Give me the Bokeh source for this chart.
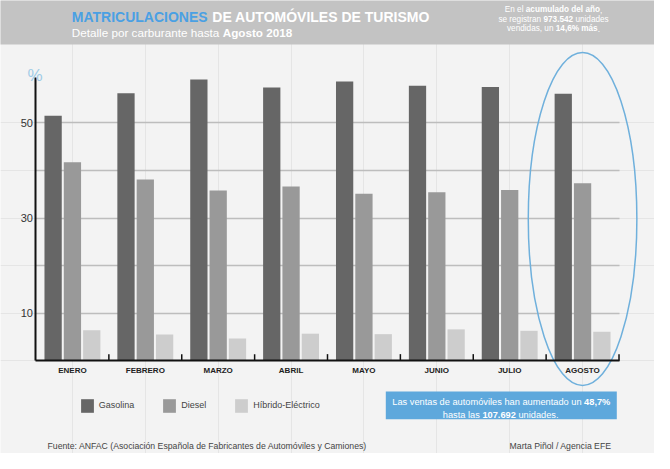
from bokeh.plotting import figure
from bokeh.models import (FactorRange, Range1d, LinearAxis, CategoricalAxis, FixedTicker,
                          Label, BoxAnnotation, Legend, LegendItem, ColumnDataSource, Grid)
from bokeh.transform import dodge
from bokeh.embed import file_html
from bokeh.resources import INLINE

# ---------------- data ----------------
months = ["ENERO", "FEBRERO", "MARZO", "ABRIL", "MAYO", "JUNIO", "JULIO", "AGOSTO"]
gasolina = [51.5, 56.2, 59.1, 57.4, 58.7, 57.8, 57.5, 56.1]
diesel = [41.7, 38.1, 35.8, 36.6, 35.1, 35.4, 35.9, 37.3]
hibrido = [6.4, 5.5, 4.7, 5.7, 5.6, 6.6, 6.3, 6.1]
series_names = ["Gasolina", "Diesel", "Híbrido-Eléctrico"]
y_tick_labels = [10, 30, 50]
grid_values = [10, 20, 30, 40, 50]

# ---------------- layout / style ----------------
W, H = 654, 453
FONT = "Liberation Sans"
BG = "#f3f3f3"
HEADER = "#c3c3c3"
BLUE = "#4aa0e3"
BOXBLUE = "#5ea8dc"
COLORS = ["#666666", "#999999", "#cdcdcd"]
S = 4.76            # px per unit
ZERO_PX = 368.3     # page px of value 0
OFF = 8             # page margin


def vy(page_y):
    """page pixel row -> data value (for placing annotations)"""
    return (ZERO_PX - page_y) / S


def sx(page_x):
    return page_x - OFF


y_start = -(H - (ZERO_PX - OFF)) / S
y_end = (ZERO_PX - OFF) / S

p = figure(width=W, height=H, title=None,
           x_range=FactorRange(factors=months, range_padding=0.487, range_padding_units="absolute"),
           y_range=Range1d(y_start, y_end),
           output_backend="svg", toolbar_location=None,
           x_axis_location=None, y_axis_location=None,
           min_border=0, background_fill_color=BG, border_fill_color=BG,
           outline_line_color=None)

src = ColumnDataSource(dict(month=months, gasolina=gasolina, diesel=diesel, hibrido=hibrido))

# grid lines
g = Grid(dimension=1, ticker=FixedTicker(ticks=grid_values),
         grid_line_color="#bdbdbd", grid_line_width=1.5)
if "cross_bounds" in Grid.properties():
    g.cross_bounds = (0, len(months))
    p.add_layout(g)
else:
    gsrc = ColumnDataSource(dict(y=grid_values, a=[months[0]] * len(grid_values),
                                 b=[months[-1]] * len(grid_values)))
    p.segment(x0=dodge("a", -0.5, range=p.x_range), x1=dodge("b", 0.5, range=p.x_range),
              y0="y", y1="y", source=gsrc, line_color="#bdbdbd", line_width=1.5)

# bars
offsets = [-0.265, 0.0, 0.265]
cols = ["gasolina", "diesel", "hibrido"]
renderers = []
for off, col, c in zip(offsets, cols, COLORS):
    r = p.vbar(x=dodge("month", off, range=p.x_range), top=col, width=0.237,
               source=src, fill_color=c, line_color=None)
    renderers.append(r)

# boundary ticks on x axis
p.segment(x0=dodge("month", 0.5, range=p.x_range), x1=dodge("month", 0.5, range=p.x_range),
          y0=0, y1=1.4, source=src, line_color="#111111", line_width=1.5)

# axes
yaxis = LinearAxis(fixed_location=0, bounds=(0, 59.5), ticker=FixedTicker(ticks=y_tick_labels),
                   axis_line_color="#111111", axis_line_width=2,
                   major_tick_in=0, major_tick_out=0, major_tick_line_color=None,
                   minor_tick_line_color=None,
                   major_label_text_font=FONT, major_label_text_font_size="11px",
                   major_label_text_color="#333333", major_label_standoff=3)
p.add_layout(yaxis, "left")

xaxis = CategoricalAxis(fixed_location=0, bounds=(0, len(months)),
                        axis_line_color="#111111", axis_line_width=2,
                        major_tick_in=0, major_tick_out=0, major_tick_line_color=None,
                        minor_tick_line_color=None,
                        major_label_text_font=FONT, major_label_text_font_size="8px",
                        major_label_text_font_style="bold", major_label_text_color="#222222",
                        major_label_standoff=5)
p.add_layout(xaxis, "below")

# highlight ellipse around last month
p.ellipse(x=[months[-1]], y=[vy(226.5)], width=[1.49], height=[333 / S],
          fill_color=None, line_color="#6fb0dc", line_width=1.5)

# header band and info box
p.add_layout(BoxAnnotation(left=-10, right=W + 10, left_units="screen", right_units="screen",
                           top=vy(-10), bottom=vy(52), fill_color=HEADER, fill_alpha=1,
                           line_color=None))
p.add_layout(BoxAnnotation(left=sx(393.3), right=sx(624.3), left_units="screen",
                           right_units="screen", top=vy(399), bottom=vy(426.7),
                           fill_color=BOXBLUE, fill_alpha=1, line_color=None))

# legend
legend = Legend(items=[LegendItem(label=n, renderers=[r]) for n, r in zip(series_names, renderers)],
                orientation="horizontal", location=(sx(86.7), H - (421.7 - OFF)),
                padding=0, margin=0, spacing=27, glyph_width=16, glyph_height=17,
                label_height=17, label_standoff=4, label_text_font=FONT,
                label_text_font_size="9px", label_text_color="#444444",
                background_fill_alpha=0, border_line_color=None)
p.add_layout(legend)

# texts: (page x, page baseline y, text, size px, bold, color, align)
W_ = "#ffffff"
texts = [
    (35, 83, "%", 17, False, "#9fcbe6", "left"),
    (79.3, 24.3, "MATRICULACIONES", 14, True, BLUE, "left"),
    (219.8, 24.3, "DE AUTOMÓVILES DE TURISMO", 14, True, W_, "left"),
    (79.3, 40.0, "Detalle por carburante hasta", 11.7, False, W_, "left"),
    (230.2, 40.0, "Agosto 2018", 11.7, True, W_, "left"),
    (512.3, 17.3, "En el", 8.2, False, W_, "left"),
    (533.3, 17.3, "acumulado del año", 8.2, True, W_, "left"),
    (607.6, 17.3, ",", 8.2, False, W_, "left"),
    (505.9, 26.7, "se registran", 8.2, False, W_, "left"),
    (551.0, 26.7, "973.542", 8.2, True, W_, "left"),
    (582.9, 26.7, "unidades", 8.2, False, W_, "left"),
    (514.5, 36.0, "vendidas, un", 8.2, False, W_, "left"),
    (563.3, 36.0, "14,6% más", 8.2, True, W_, "left"),
    (605.2, 36.0, ".", 8.2, False, W_, "left"),
    (399.8, 409.5, "Las ventas de automóviles han aumentado un", 9.25, False, W_, "left"),
    (591.6, 409.5, "48,7%", 9.25, True, W_, "left"),
    (450.3, 422.5, "hasta las", 9.25, False, W_, "left"),
    (489.9, 422.5, "107.692", 9.25, True, W_, "left"),
    (525.9, 422.5, "unidades.", 9.25, False, W_, "left"),
    (55.0, 453.5, "Fuente: ANFAC (Asociación Española de Fabricantes  de Automóviles y Camiones)",
     8.7, False, "#444444", "left"),
    (619.0, 453.5, "Marta Piñol / Agencia EFE", 8.7, False, "#444444", "right"),
]
for x, y, t, fs, bold, color, align in texts:
    p.add_layout(Label(x=sx(x), y=vy(y), x_units="screen", text=t, text_font=FONT,
                       text_font_size=f"{fs}px", text_font_style="bold" if bold else "normal",
                       text_color=color, text_align=align, text_baseline="alphabetic"))

open("out.html", "w").write(file_html(p, INLINE))
